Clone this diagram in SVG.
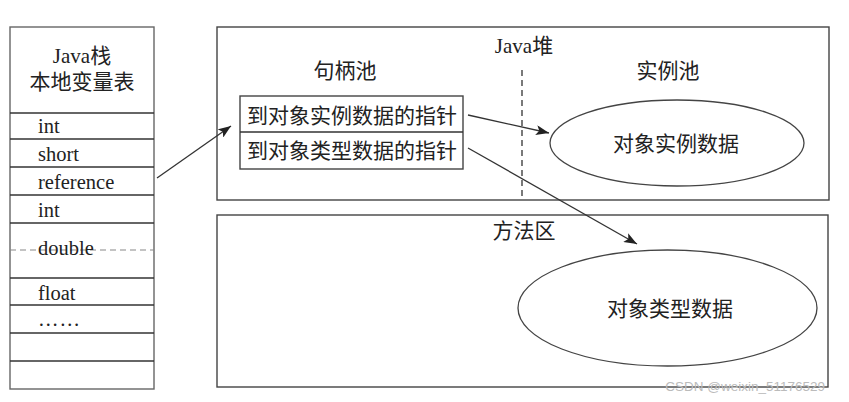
<svg xmlns="http://www.w3.org/2000/svg" width="849" height="402" viewBox="0 0 849 402">
<style>
.t{font-family:"Liberation Serif","Noto Sans CJK SC",serif;fill:#222}
.h{font-size:21px;text-anchor:middle}
.r{font-size:20.5px}
.box{fill:none;stroke:#444;stroke-width:1.4}
.ln{stroke:#333;stroke-width:1.3}
.conn{stroke:#333;stroke-width:1.3;fill:none;marker-end:url(#ah)}
</style>
<defs>
<marker id="ah" markerUnits="userSpaceOnUse" markerWidth="14" markerHeight="10" refX="13" refY="5" orient="auto">
<path d="M0,0 L13,5 L0,10 L3,5 Z" fill="#222"/>
</marker>
</defs>
<rect width="849" height="402" fill="#fff"/>

<g id="java-stack">
<rect x="10" y="27" width="144" height="362" fill="none" stroke="#666" stroke-width="1.4"/>
<text class="t h" x="82" y="63">Java栈</text>
<text class="t h" x="82" y="89">本地变量表</text>
<g class="ln">
<line x1="10" y1="113" x2="154" y2="113"/>
<line x1="10" y1="139" x2="154" y2="139"/>
<line x1="10" y1="167" x2="154" y2="167"/>
<line x1="10" y1="195" x2="154" y2="195"/>
<line x1="10" y1="223" x2="154" y2="223"/>
<line x1="10" y1="278" x2="154" y2="278"/>
<line x1="10" y1="305" x2="154" y2="305"/>
<line x1="10" y1="333" x2="154" y2="333"/>
<line x1="10" y1="361" x2="154" y2="361"/>
</g>
<line x1="10" y1="250" x2="154" y2="250" stroke="#888" stroke-width="1.2" stroke-dasharray="6 4"/>
<text class="t r" x="38" y="133">int</text>
<text class="t r" x="38" y="161">short</text>
<text class="t r" x="38" y="189">reference</text>
<text class="t r" x="38" y="217">int</text>
<text class="t r" x="38" y="255">double</text>
<text class="t r" x="38" y="300">float</text>
<text class="t r" x="38" y="326" letter-spacing="1">……</text>
</g>

<g id="java-heap">
<rect class="box" x="217" y="27" width="612" height="173"/>
<text class="t h" x="524" y="53">Java堆</text>
<line x1="522" y1="70" x2="522" y2="200" stroke="#222" stroke-width="1.2" stroke-dasharray="6 4"/>
<text class="t h" x="345" y="78">句柄池</text>
<text class="t h" x="668" y="78">实例池</text>
</g>

<g id="handle-pool">
<rect class="box" x="240" y="96" width="223" height="73"/>
<line class="ln" x1="240" y1="132" x2="463" y2="132"/>
<text class="t h" x="352" y="123">到对象实例数据的指针</text>
<text class="t h" x="352" y="158">到对象类型数据的指针</text>
</g>

<g id="instance-data">
<ellipse cx="677" cy="143" rx="127" ry="43" fill="none" stroke="#444" stroke-width="1.3"/>
<text class="t h" x="676" y="151">对象实例数据</text>
</g>

<g id="method-area">
<rect class="box" x="217" y="215" width="611" height="172"/>
<text class="t h" x="524" y="238">方法区</text>
</g>

<g id="type-data">
<ellipse cx="667.5" cy="308" rx="149.5" ry="58" fill="none" stroke="#444" stroke-width="1.3"/>
<text class="t h" x="670" y="316">对象类型数据</text>
</g>

<g id="connectors">
<line class="conn" x1="157" y1="178" x2="231" y2="126"/>
<line class="conn" x1="468" y1="115" x2="549" y2="133"/>
<line class="conn" x1="468" y1="148" x2="637" y2="244"/>
</g>

<text x="825" y="391" text-anchor="end" font-family="Liberation Sans,sans-serif" font-size="13.5" fill="#bbb">CSDN @weixin_51176529</text>
</svg>
